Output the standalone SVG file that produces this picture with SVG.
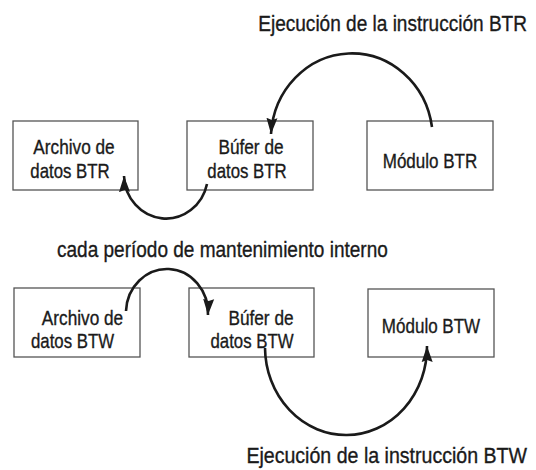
<svg xmlns="http://www.w3.org/2000/svg" width="536" height="470" viewBox="0 0 536 470">
<style>
.box{fill:#fff;stroke:#555;stroke-width:1.3}
.t{font-family:"Liberation Sans",Arial,sans-serif;font-size:20.5px;fill:#1a1a1a;stroke:#1a1a1a;stroke-width:0.35;text-anchor:middle}
.lbl{font-family:"Liberation Sans",Arial,sans-serif;font-size:22px;fill:#1a1a1a;stroke:#1a1a1a;stroke-width:0.35}
.arc{fill:none;stroke:#1a1a1a;stroke-width:2.6;marker-end:url(#ah)}
</style>
<defs>
<marker id="ah" markerUnits="userSpaceOnUse" markerWidth="17" markerHeight="12" refX="16" refY="5.5" orient="auto" viewBox="0 0 17 11">
<path d="M0,0 L16,5.5 L0,11 L2,5.5 z" fill="#1a1a1a"/>
</marker>
</defs>
<rect width="536" height="470" fill="#fff"/>
<g id="labels">
<text class="lbl" transform="translate(527,31) scale(0.866,1)" text-anchor="end">Ejecución de la instrucción BTR</text>
<text class="lbl" transform="translate(57,257) scale(0.865,1)">cada período de mantenimiento interno</text>
<text class="lbl" transform="translate(527,463) scale(0.89,1)" text-anchor="end">Ejecución de la instrucción BTW</text>
</g>
<g id="archivo-btr">
<rect class="box" x="13" y="121" width="125" height="69"/>
<text class="t" transform="translate(74,154) scale(0.84,1)">Archivo de</text>
<text class="t" transform="translate(70,178) scale(0.82,1)">datos BTR</text>
</g>
<g id="bufer-btr">
<rect class="box" x="187" y="121" width="126" height="69"/>
<text class="t" transform="translate(251,154) scale(0.84,1)">Búfer de</text>
<text class="t" transform="translate(247,178) scale(0.82,1)">datos BTR</text>
</g>
<g id="modulo-btr">
<rect class="box" x="367" y="121" width="126" height="69"/>
<text class="t" transform="translate(430,168) scale(0.83,1)">Módulo BTR</text>
</g>
<g id="archivo-btw">
<rect class="box" x="14" y="288" width="126" height="69"/>
<text class="t" transform="translate(82.5,325) scale(0.84,1)">Archivo de</text>
<text class="t" transform="translate(72.5,348) scale(0.82,1)">datos BTW</text>
</g>
<g id="bufer-btw">
<rect class="box" x="189" y="288" width="125" height="69"/>
<text class="t" transform="translate(261,325) scale(0.84,1)">Búfer de</text>
<text class="t" transform="translate(252,348) scale(0.82,1)">datos BTW</text>
</g>
<g id="modulo-btw">
<rect class="box" x="368" y="289" width="126" height="68"/>
<text class="t" transform="translate(431,333) scale(0.83,1)">Módulo BTW</text>
</g>
<g id="connectors">
<path class="arc" d="M432,127 A81,86 0 0 0 271,134"/>
<path class="arc" d="M207,184 A42,44 0 0 1 124,176"/>
<path class="arc" d="M126,311 A41,44 0 0 1 208,315"/>
<path class="arc" d="M265,348 A81,88 0 0 0 427,346"/>
</g>
</svg>
